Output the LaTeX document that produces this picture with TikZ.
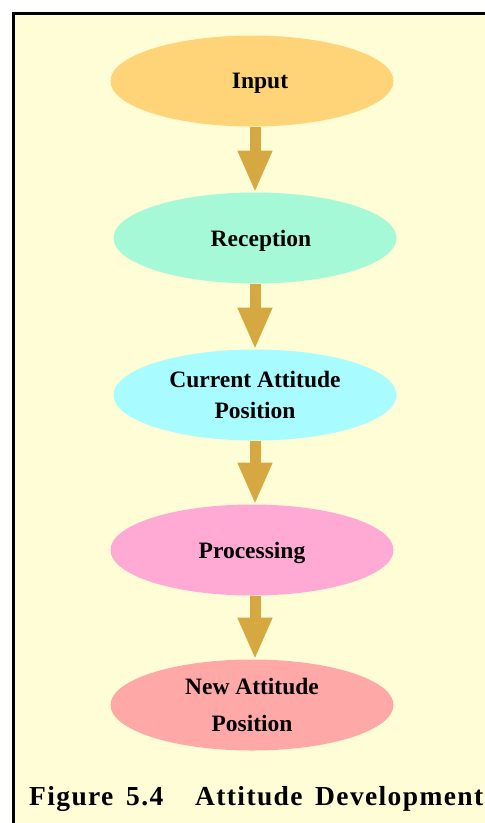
\documentclass[tikz,border=0pt]{standalone}
\usepackage{fontspec}
\setmainfont{Liberation Serif}
\usetikzlibrary{shapes.geometric,arrows.meta}

\definecolor{panel}{HTML}{FFFDD5}
\definecolor{cInput}{HTML}{FFD479}
\definecolor{cReception}{HTML}{A5F9D6}
\definecolor{cCurrent}{HTML}{A8FBFF}
\definecolor{cProcessing}{HTML}{FFAAD5}
\definecolor{cNew}{HTML}{FFA8A8}
\definecolor{arrowgold}{HTML}{D5A841}

\tikzset{
  stage/.style={ellipse, draw=none, minimum width=283pt, minimum height=91pt,
    inner sep=0pt, outer sep=0pt, align=center, text depth=0pt,
    font=\bfseries\fontsize{23.5}{31}\selectfont},
  flow/.style={draw=arrowgold, line width=11pt,
    -{Triangle[width=32pt,length=42pt]}, arrowgold},
  captionword/.style={anchor=base west, inner sep=0pt,
    font=\bfseries\fontsize{27.5}{32}\selectfont\addfontfeature{LetterSpace=5}}
}

\begin{document}
\begin{tikzpicture}[x=1pt,y=-1pt]
  \useasboundingbox (0,0) rectangle (485,823);
  \fill[white] (0,0) rectangle (485,823);
  \begin{scope}
    \clip (0,0) rectangle (485,823);
    % framed panel running off the right and bottom edges
    \draw[line width=3pt, fill=panel] (13.5,13.5) rectangle (520,860);
  \end{scope}

  % stages
  \node[stage, fill=cInput]      (input) at (252,81)  {\hspace*{16pt}Input};
  \node[stage, fill=cReception]  (recep) at (255,238) {\hspace*{12pt}Reception};
  \node[stage, fill=cCurrent]    (curr)  at (255,395) {Current Attitude\\Position};
  \node[stage, fill=cProcessing] (proc)  at (252,550) {Processing};
  \node[stage, fill=cNew]        (newp)  at (252,705) {New Attitude\\[6pt]Position};

  % connectors
  \draw[flow] (input.south -| recep.north) -- (recep.north);
  \draw[flow] (recep.south) -- (curr.north);
  \draw[flow] (curr.south) -- (proc.north -| curr.south);
  \draw[flow] ([xshift=3pt]proc.south) -- ([xshift=3pt]newp.north);

  % caption
  \node[captionword] (capA) at (29,805)  {Figure};
  \node[captionword] (capB) at (126,805) {5.4};
  \node[captionword] (capC) at (195,805) {Attitude};
  \node[captionword] (capD) at (315,805) {Development};
\end{tikzpicture}
\end{document}
